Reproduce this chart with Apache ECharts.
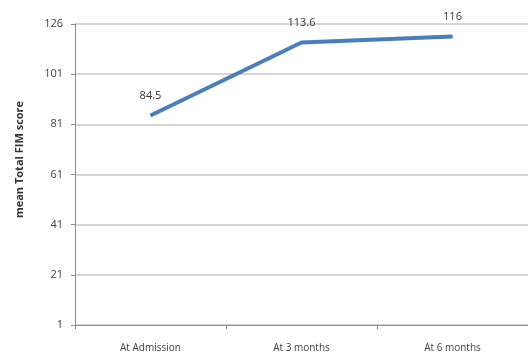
<!DOCTYPE html>
<html><head><meta charset="utf-8">
<script src="https://cdn.jsdelivr.net/npm/echarts@6/dist/echarts.min.js"></script>
<style>html,body{margin:0;padding:0;background:#fff}#c{width:528px;height:359px}</style>
</head><body><div id="c"></div>
<script>
const categories = ['At Admission', 'At 3 months', 'At 6 months'];
const meanFim = [84.5, 113.6, 116];
const tickLabels = ['1', '21', '41', '61', '81', '101', '126'];

const chart = echarts.init(document.getElementById('c'), null, {renderer: 'canvas'});
chart.setOption({
  animation: false,
  backgroundColor: '#fff',
  grid: {left: 75, right: -6, top: 24, bottom: 34},
  xAxis: {
    type: 'category',
    data: categories,
    boundaryGap: true,
    axisLine: {lineStyle: {color: '#8c8c8c', width: 1}},
    axisTick: {show: true, length: 4, lineStyle: {color: '#8c8c8c'}},
    axisLabel: {color: '#404040', fontSize: 10, fontFamily: 'Open Sans', margin: 18}
  },
  yAxis: {
    type: 'value',
    min: 1, max: 121, interval: 20,
    name: 'mean Total FIM score',
    nameLocation: 'middle',
    nameGap: 50,
    nameTextStyle: {fontSize: 11, fontWeight: 'bold', color: '#333', fontFamily: 'Open Sans', padding: [0, 0, 0, 30]},
    axisLine: {show: true, lineStyle: {color: '#8c8c8c', width: 1}},
    axisTick: {show: true, length: 4, lineStyle: {color: '#8c8c8c'}},
    axisLabel: {color: '#404040', fontSize: 11, fontFamily: 'Open Sans', margin: 12,
      formatter: (v, i) => tickLabels[i]},
    splitLine: {lineStyle: {color: '#c8c8c8', width: 1.5}}
  },
  series: [{
    type: 'line',
    data: meanFim,
    symbol: 'circle',
    symbolSize: 1,
    showSymbol: true,
    itemStyle: {color: '#4a7ebb'},
    lineStyle: {color: '#4a7ebb', width: 4},
    label: {show: true, position: 'top', distance: 14, color: '#333', fontSize: 11, fontFamily: 'Open Sans'}
  }]
});
</script></body></html>
